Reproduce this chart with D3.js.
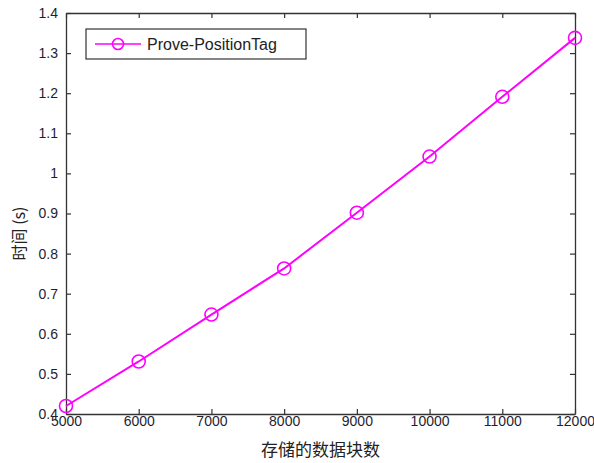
<!DOCTYPE html>
<html>
<head>
<meta charset="utf-8">
<script src="https://cdn.jsdelivr.net/npm/d3@7"></script>
<style>
  body { margin: 0; background: #fff; }
  svg { display: block; }
</style>
</head>
<body>
<script>
// data
const blocks = [5000, 6000, 7000, 8000, 9000, 10000, 11000, 12000];
const times = [0.42, 0.531, 0.648, 0.763, 0.902, 1.042, 1.191, 1.338];
const xTicks = [5000, 6000, 7000, 8000, 9000, 10000, 11000, 12000];
const yTicks = [0.4, 0.5, 0.6, 0.7, 0.8, 0.9, 1, 1.1, 1.2, 1.3, 1.4];
const seriesName = "Prove-PositionTag";

const drawViz = () => {
  const width = 594;
  const height = 463;
  const margin = {top: 13, bottom: 49, left: 66, right: 19};
  const color = "#ff00ff";
  const axisColor = "#333";
  const font = "'Liberation Sans', Arial, sans-serif";

  const data = blocks.map((b, i) => ({b: b, t: times[i]}));

  const xScale = d3.scaleLinear()
    .domain([5000, 12000])
    .range([margin.left, width - margin.right]);

  const yScale = d3.scaleLinear()
    .domain([0.4, 1.4])
    .range([height - margin.bottom, margin.top]);

  const svg = d3.select('body')
    .append('svg')
    .attr('width', width)
    .attr('height', height);

  const x0 = xScale.range()[0], x1 = xScale.range()[1];
  const y0 = yScale.range()[0], y1 = yScale.range()[1];

  // axes with inward ticks, mirrored on top and right
  const bottomAxis = d3.axisBottom(xScale).tickValues(xTicks).tickSizeInner(-5).tickSizeOuter(0).tickPadding(4)
    .tickFormat(d3.format('d'));
  const topAxis = d3.axisTop(xScale).tickValues(xTicks).tickSizeInner(-5).tickSizeOuter(0).tickFormat('');
  const leftAxis = d3.axisLeft(yScale).tickValues(yTicks).tickSizeInner(-5).tickSizeOuter(0).tickPadding(8)
    .tickFormat(d => d3.format('')(+d.toFixed(1)));
  const rightAxis = d3.axisRight(yScale).tickValues(yTicks).tickSizeInner(-5).tickSizeOuter(0).tickFormat('');

  const styleAxis = g => {
    g.selectAll('path').attr('stroke', axisColor).attr('stroke-width', 1.3);
    g.selectAll('line').attr('stroke', axisColor).attr('stroke-width', 1.2);
    g.selectAll('text')
      .attr('fill', '#1e1e33')
      .attr('font-family', font)
      .attr('font-size', 14);
  };

  svg.append('g').attr('transform', `translate(0,${y0})`).call(bottomAxis).call(styleAxis)
    .selectAll('text').attr('dy', '0.6em');
  svg.append('g').attr('transform', `translate(0,${y1})`).call(topAxis).call(styleAxis);
  svg.append('g').attr('transform', `translate(${x0},0)`).call(leftAxis).call(styleAxis);
  svg.append('g').attr('transform', `translate(${x1},0)`).call(rightAxis).call(styleAxis);

  // line
  const line = d3.line().x(d => xScale(d.b)).y(d => yScale(d.t));
  svg.append('path')
    .datum(data)
    .attr('fill', 'none')
    .attr('stroke', color)
    .attr('stroke-width', 2)
    .attr('d', line);

  // markers
  svg.append('g')
    .selectAll('circle')
    .data(data)
    .enter()
    .append('circle')
    .attr('cx', d => xScale(d.b))
    .attr('cy', d => yScale(d.t))
    .attr('r', 6.5)
    .attr('fill', 'none')
    .attr('stroke', color)
    .attr('stroke-width', 1.6);

  // legend
  const legend = svg.append('g').attr('transform', 'translate(86,29)');
  legend.append('rect')
    .attr('x', 0).attr('y', 0)
    .attr('width', 220).attr('height', 30)
    .attr('fill', '#fff')
    .attr('stroke', axisColor)
    .attr('stroke-width', 1.2);
  legend.append('line')
    .attr('x1', 9).attr('x2', 55)
    .attr('y1', 15).attr('y2', 15)
    .attr('stroke', color).attr('stroke-width', 1.6);
  legend.append('circle')
    .attr('cx', 32).attr('cy', 15).attr('r', 5.5)
    .attr('fill', 'none').attr('stroke', color).attr('stroke-width', 1.6);
  legend.append('text')
    .attr('x', 61).attr('y', 20.5)
    .attr('fill', '#222')
    .attr('font-family', font)
    .attr('font-size', 16)
    .text(seriesName);

  // axis titles
  svg.append('text')
    .attr('x', (x0 + x1) / 2)
    .attr('y', 456)
    .attr('text-anchor', 'middle')
    .attr('fill', '#222')
    .attr('font-family', "'Noto Sans CJK SC', sans-serif")
    .attr('font-size', 17)
    .text('存储的数据块数');

  svg.append('text')
    .attr('transform', `translate(25,${(y0 + y1) / 2 + 20}) rotate(-90)`)
    .attr('text-anchor', 'middle')
    .attr('fill', '#222')
    .attr('font-family', "'Noto Sans CJK SC', sans-serif")
    .attr('font-size', 16)
    .text('时间 (s)');
};

drawViz();
</script>
</body>
</html>
